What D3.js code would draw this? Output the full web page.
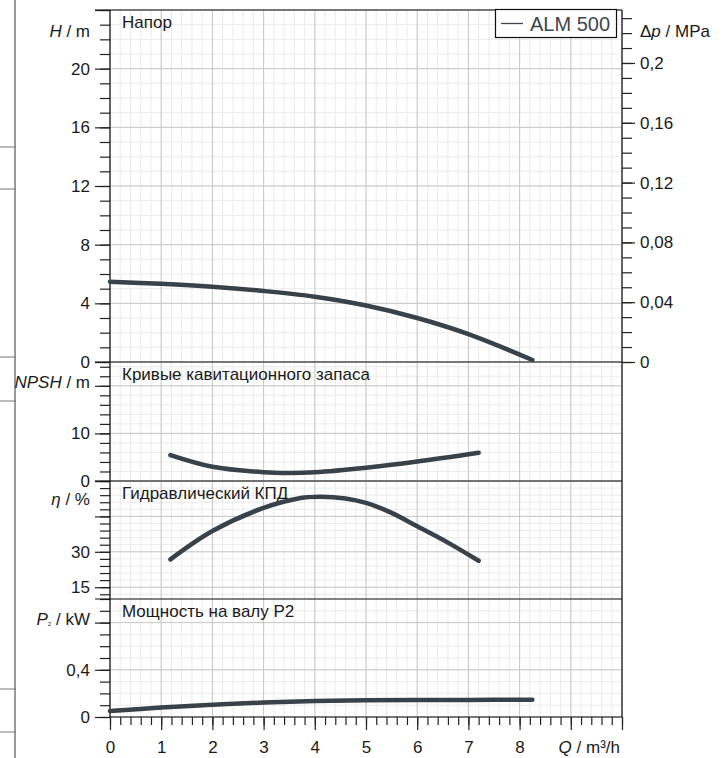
<!DOCTYPE html>
<html>
<head>
<meta charset="utf-8">
<script src="https://cdn.jsdelivr.net/npm/d3@7"></script>
<style>
body { margin: 0; background: #fff; }
text { font-family: "Liberation Sans", Arial, sans-serif; fill: #1a1a1a; }
</style>
</head>
<body>
<div id="chart"></div>
<script>
// values
var headQ = [0, 1, 2, 3, 4, 5, 6, 7, 8.25];
var headH = [5.47, 5.33, 5.13, 4.84, 4.45, 3.85, 3.0, 1.9, 0.14];
var npshQ = [1.18, 2, 3, 3.5, 4, 5, 6, 7.2];
var npshM = [5.45, 3.0, 1.85, 1.7, 1.85, 2.8, 4.1, 5.95];
var effQ = [1.18, 2, 3, 3.7, 4.1, 4.6, 5, 5.5, 6, 6.6, 7.2];
var effPct = [26.8, 38.8, 48.6, 52.7, 53.3, 52.6, 50.7, 46.5, 40.8, 33.9, 26.2];
var powerQ = [0, 1, 2, 3, 4, 5, 6, 7, 8.25];
var powerKW = [0.05, 0.08, 0.103, 0.123, 0.135, 0.141, 0.144, 0.145, 0.146];

var flowLabels = [0, 1, 2, 3, 4, 5, 6, 7, 8];
var headLabels = [0, 4, 8, 12, 16, 20];
var pressureLabels = [0, 0.04, 0.08, 0.12, 0.16, 0.2];
var npshLabels = [0, 10];
var effLabels = [15, 30];
var powerLabels = [0, 0.4];
var panelTitles = ["Напор", "Кривые кавитационного запаса", "Гидравлический КПД", "Мощность на валу P2"];
var seriesName = "ALM 500";

var width = 727, height = 758;
var left = 110, right = 622;
var curveColor = "#37424b";
var fontSize = "17px";
var comma = d3.formatLocale({decimal: ",", thousands: " ", grouping: [3], currency: ["", ""]}).format("~g");

var svg = d3.select("#chart").append("svg").attr("width", width).attr("height", height);

var x = d3.scaleLinear().domain([0, 10]).range([left, right]);

function steps(a, b, s) {
    var out = [];
    for (var v = a; v <= b + 1e-9; v += s) out.push(+v.toFixed(4));
    return out;
}

// panels, top to bottom
var panels = [
    {title: panelTitles[0], top: 10, bottom: 362, domain: [0, 24], major: 4, minor: 1, labels: headLabels, q: headQ, v: headH},
    {title: panelTitles[1], top: 362, bottom: 481, domain: [0, 25], major: 10, minor: 2, labels: npshLabels, q: npshQ, v: npshM},
    {title: panelTitles[2], top: 481, bottom: 599, domain: [10, 60], major: 15, minor: 3, labels: effLabels, q: effQ, v: effPct},
    {title: panelTitles[3], top: 599, bottom: 717, domain: [0, 1], major: 0.4, minor: 0.1, labels: powerLabels, q: powerQ, v: powerKW}
];

// the page strip at the far left
svg.append("line").attr("x1", 15).attr("x2", 15).attr("y1", 0).attr("y2", height)
    .attr("stroke", "#777").attr("stroke-width", 1.5);
[147, 189, 357, 401, 689, 732].forEach(function(yy) {
    svg.append("line").attr("x1", 0).attr("x2", 16).attr("y1", yy).attr("y2", yy)
        .attr("stroke", "#777").attr("stroke-width", 1);
});

var xMinor = steps(0, 10, 0.2);
var xMajor = steps(0, 10, 1);

function styleAxis(a) {
    a.select(".domain").remove();
    a.selectAll("line").attr("stroke", "#222").attr("stroke-width", 1.2);
    a.selectAll("text").style("font-size", fontSize).attr("fill", "#1a1a1a");
}

panels.forEach(function(p) {
    p.y = d3.scaleLinear().domain(p.domain).range([p.bottom, p.top]);
    var g = svg.append("g");
    var yMinor = steps(Math.ceil(p.domain[0] / p.minor) * p.minor, p.domain[1], p.minor);
    var yMajor = steps(Math.ceil(p.domain[0] / p.major) * p.major, p.domain[1], p.major);

    // grid
    g.selectAll(".vmin").data(xMinor).enter().append("line")
        .attr("x1", x).attr("x2", x).attr("y1", p.top).attr("y2", p.bottom)
        .attr("stroke", "#ebebeb").attr("stroke-width", 1);
    g.selectAll(".hmin").data(yMinor).enter().append("line")
        .attr("x1", left).attr("x2", right).attr("y1", p.y).attr("y2", p.y)
        .attr("stroke", "#ebebeb").attr("stroke-width", 1);
    g.selectAll(".vmaj").data(xMajor).enter().append("line")
        .attr("x1", x).attr("x2", x).attr("y1", p.top).attr("y2", p.bottom)
        .attr("stroke", "#c8c8c8").attr("stroke-width", 1);
    g.selectAll(".hmaj").data(yMajor).enter().append("line")
        .attr("x1", left).attr("x2", right).attr("y1", p.y).attr("y2", p.y)
        .attr("stroke", "#c8c8c8").attr("stroke-width", 1);

    // left axis: minor + major ticks, labels only where the sheet prints them
    var axMinor = d3.axisLeft(p.y).tickValues(yMinor).tickSize(10).tickFormat("");
    var axMajor = d3.axisLeft(p.y).tickValues(yMajor).tickSize(15).tickPadding(5)
        .tickFormat(function(d) { return p.labels.indexOf(d) >= 0 ? comma(d) : ""; });
    styleAxis(svg.append("g").attr("transform", "translate(" + left + ",0)").call(axMinor));
    styleAxis(svg.append("g").attr("transform", "translate(" + left + ",0)").call(axMajor));

    // panel title
    svg.append("text").attr("x", 122).attr("y", p.top + 18)
        .style("font-size", fontSize).text(p.title);
});

// panel separators and frame
svg.selectAll(".sep").data(panels).enter().append("line")
    .attr("x1", 95).attr("x2", right)
    .attr("y1", function(d) { return d.top; }).attr("y2", function(d) { return d.top; })
    .attr("stroke", "#111").attr("stroke-width", 1.2);
svg.append("line").attr("x1", left).attr("x2", right).attr("y1", 717).attr("y2", 717)
    .attr("stroke", "#111").attr("stroke-width", 1.2);
svg.append("line").attr("x1", left).attr("x2", left).attr("y1", 10).attr("y2", 717)
    .attr("stroke", "#111").attr("stroke-width", 1.2);
svg.append("line").attr("x1", right).attr("x2", right).attr("y1", 10).attr("y2", 717)
    .attr("stroke", "#111").attr("stroke-width", 1.2);

// right pressure axis (same head scale, in MPa)
var dp = d3.scaleLinear().domain([0, 24 * 0.00981]).range([362, 10]);
var dpMinor = steps(0, 0.23, 0.01);
styleAxis(svg.append("g").attr("transform", "translate(" + right + ",0)")
    .call(d3.axisRight(dp).tickValues(dpMinor).tickSize(10).tickFormat("")));
styleAxis(svg.append("g").attr("transform", "translate(" + right + ",0)")
    .call(d3.axisRight(dp).tickValues(pressureLabels).tickSize(13).tickPadding(5).tickFormat(comma)));

// bottom flow axis
styleAxis(svg.append("g").attr("transform", "translate(0,717)")
    .call(d3.axisBottom(x).tickValues(xMinor).tickSize(8).tickFormat("")));
styleAxis(svg.append("g").attr("transform", "translate(0,717)")
    .call(d3.axisBottom(x).tickValues(xMajor).tickSize(13).tickPadding(11)
        .tickFormat(function(d) { return flowLabels.indexOf(d) >= 0 ? comma(d) : ""; })));

// curves
var line = d3.line().curve(d3.curveCatmullRom.alpha(0.5));
panels.forEach(function(p) {
    var pts = p.q.map(function(q, i) { return [x(q), p.y(p.v[i])]; });
    svg.append("path").attr("d", line(pts))
        .attr("fill", "none").attr("stroke", curveColor)
        .attr("stroke-width", 4.5).attr("stroke-linecap", "round");
});

// axis titles
function label(xx, yy, anchor, parts) {
    var t = svg.append("text").attr("x", xx).attr("y", yy).attr("text-anchor", anchor).style("font-size", fontSize);
    parts.forEach(function(s) {
        var ts = t.append("tspan").text(s.t);
        if (s.i) ts.style("font-style", "italic");
        if (s.sub) ts.style("font-size", "9px");
    });
    return t;
}
label(90, 37, "end", [{t: "H", i: true}, {t: " / m"}]);
label(90, 388, "end", [{t: "NPSH", i: true}, {t: " / m"}]);
label(90, 505, "end", [{t: "η", i: true}, {t: " / %"}]);
label(90, 625, "end", [{t: "P", i: true}, {t: "₂", sub: true}, {t: " / kW"}]);
label(640, 37, "start", [{t: "Δ"}, {t: "p", i: true}, {t: " / MPa"}]);
label(620, 753, "end", [{t: "Q", i: true}, {t: " / m³/h"}]);

// legend
svg.append("rect").attr("x", 495.5).attr("y", 9.5).attr("width", 121).attr("height", 28)
    .attr("fill", "#fff").attr("stroke", "#111").attr("stroke-width", 1.2);
svg.append("line").attr("x1", 501).attr("x2", 523).attr("y1", 23.5).attr("y2", 23.5)
    .attr("stroke", "#3d4650").attr("stroke-width", 1.3);
svg.append("text").attr("x", 530).attr("y", 31).style("font-size", "20px")
    .style("fill", "#3d4650").text(seriesName);
</script>
</body>
</html>
